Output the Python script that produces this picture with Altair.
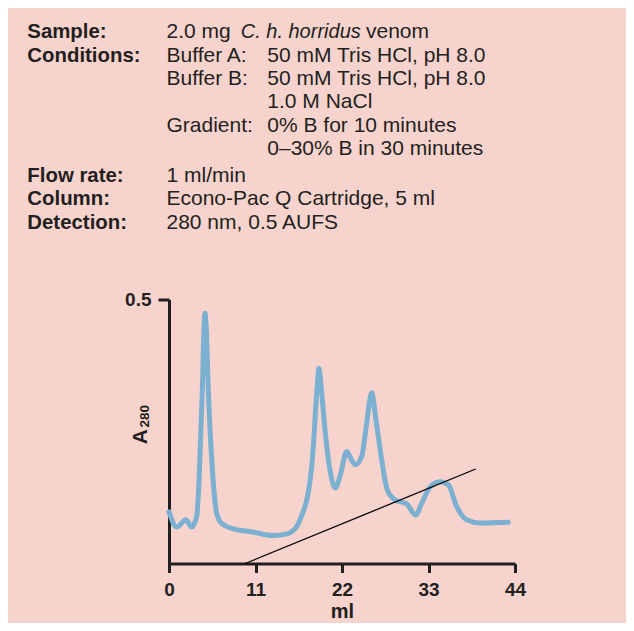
import altair as alt
import pandas as pd

# ---------------- data ----------------
ml = [0.0, 0.98, 2.16, 2.88, 3.52, 3.86, 4.24, 4.45, 4.58, 4.74, 5.0, 5.55, 6.06, 6.7,
      8.6, 10.3, 13.26, 14.97, 16.24, 16.66, 17.29, 17.7, 18.15, 18.35, 18.78, 19.07,
      19.42, 19.84, 20.47, 21.15, 21.74, 22.6, 23.1, 23.65, 24.5, 25.14, 25.78, 26.32,
      27.05, 27.76, 28.74, 30.23, 31.37, 32.13, 33.19, 34.46, 35.52, 36.58, 37.86,
      39.55, 43.15]
a280 = [0.098, 0.069, 0.083, 0.069, 0.089, 0.171, 0.329, 0.445, 0.474, 0.445, 0.329,
        0.171, 0.095, 0.076, 0.064, 0.0606, 0.053, 0.0562, 0.070, 0.083, 0.108, 0.133,
        0.184, 0.221, 0.322, 0.370, 0.322, 0.253, 0.177, 0.143, 0.165, 0.212, 0.1995,
        0.187, 0.2025, 0.266, 0.3236, 0.272, 0.196, 0.1395, 0.1205, 0.113, 0.092, 0.114,
        0.1446, 0.155, 0.149, 0.108, 0.0827, 0.0765, 0.078]

gradient_ml = [9.7, 39.0]
gradient_a = [0.0, 0.179]

x_ticks = [0, 11, 22, 33, 44]
y_ticks = [0.5]
x_title = "ml"

info_labels = ["Sample:", "Conditions:", "Flow rate:", "Column:", "Detection:"]
sample_parts = ["2.0 mg", "C. h. horridus", "venom"]
cond_keys = ["Buffer A:", "Buffer B:", "", "Gradient:", ""]
cond_vals = ["50 mM Tris HCl, pH 8.0", "50 mM Tris HCl, pH 8.0", "1.0 M NaCl",
             "0% B for 10 minutes", "0\u201330% B in 30 minutes"]
other_vals = ["1 ml/min", "Econo-Pac Q Cartridge, 5 ml", "280 nm, 0.5 AUFS"]

# ---------------- styling ----------------
BG = "#F7D3CD"
INK = "#231F20"
BLUE = "#7CB0D1"
FONT = "Liberation Sans"

W, H = 346, 264

trace = pd.DataFrame({"ml": ml, "a": a280})
grad = pd.DataFrame({"ml": gradient_ml, "a": gradient_a})

xscale = alt.Scale(domain=[0, 44], nice=False, zero=False)
yscale = alt.Scale(domain=[0, 0.5], nice=False)

xaxis = alt.Axis(values=x_ticks, title=x_title, grid=False, labelFont=FONT,
                 labelFontWeight="bold", labelFontSize=19, labelColor=INK,
                 domainColor=INK, domainWidth=3, tickColor=INK, tickWidth=3,
                 tickSize=9, labelPadding=8, labelFlush=False, titleFont=FONT,
                 titleFontSize=20, titleFontWeight="bold", titleColor=INK,
                 titlePadding=2, format="d")
yaxis = alt.Axis(values=y_ticks, title=None, grid=False, labelFont=FONT,
                 labelFontWeight="bold", labelFontSize=19, labelColor=INK,
                 domainColor=INK, domainWidth=3, tickColor=INK, tickWidth=3,
                 tickSize=11, labelPadding=7, labelFlush=False, format=".1f")

line = alt.Chart(trace).mark_line(color=BLUE, strokeWidth=5, interpolate="monotone",
                                  strokeJoin="round", strokeCap="round").encode(
    x=alt.X("ml:Q", scale=xscale, axis=xaxis),
    y=alt.Y("a:Q", scale=yscale, axis=yaxis),
)
gline = alt.Chart(grad).mark_line(color="#000000", strokeWidth=1.3).encode(
    x=alt.X("ml:Q", scale=xscale),
    y=alt.Y("a:Q", scale=yscale),
)


def txt(s, x, y, size=21, weight="normal", style="normal", angle=0, align="left"):
    return alt.Chart(pd.DataFrame({"t": [s]})).mark_text(
        font=FONT, fontSize=size, fontWeight=weight, fontStyle=style, color=INK,
        align=align, baseline="alphabetic", angle=angle,
    ).encode(x=alt.value(x), y=alt.value(y), text="t:N")


# layout (pixels relative to plot origin)
LX, VX, SX = -141.7, -2.5, 98.3
rows = [-261.2, -237.9, -214.6, -191.3, -168.0, -144.7, -118.0, -94.7, -71.0]
label_rows = [0, 1, 6, 7, 8]

texts = []
for lab, r in zip(info_labels, label_rows):
    texts.append(txt(lab, LX, rows[r], size=20.4, weight="bold"))
texts.append(txt(sample_parts[0], VX, rows[0]))
texts.append(txt(sample_parts[1], 71.7, rows[0], size=20, style="italic"))
texts.append(txt(sample_parts[2], 197.0, rows[0]))
for i, (k, v) in enumerate(zip(cond_keys, cond_vals)):
    if k:
        texts.append(txt(k, VX, rows[1 + i]))
    texts.append(txt(v, SX, rows[1 + i]))
for i, v in enumerate(other_vals):
    texts.append(txt(v, VX, rows[6 + i]))

# y-axis title A280 with subscript
texts.append(txt("A", -22.5, 137.2, size=21, weight="bold", angle=270, align="center"))
texts.append(txt("280", -20.5, 116.7, size=13.5, weight="bold", angle=270, align="center"))

chart = alt.layer(line, gline, *texts).properties(
    width=W, height=H,
    background=BG,
    padding={"left": 161, "top": 291.5, "right": 111, "bottom": 59.5},
    autosize=alt.AutoSizeParams(type="none"),
).configure_view(stroke=None)

chart.save("out.html", embed_options={"renderer": "svg", "actions": False})
